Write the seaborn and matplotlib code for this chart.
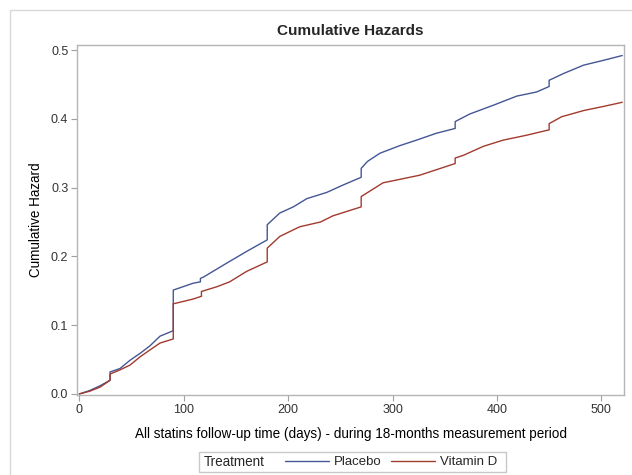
import pandas as pd
import seaborn as sns
import matplotlib.pyplot as plt
from matplotlib.lines import Line2D
from matplotlib.patches import Rectangle

# values (days, cumulative hazard)
placebo_day = [0, 10, 20, 29.5, 29.5, 39, 48.6, 58.2, 67.7, 77.3, 90, 90, 109, 116, 116, 119, 130, 141,
               160, 180, 180, 192, 205, 218, 237, 253, 270, 270, 276, 288, 307, 323, 342, 360, 360,
               374, 397, 419, 438, 450, 450, 464, 483, 502, 520]
placebo_haz = [0.0, 0.005, 0.012, 0.020, 0.032, 0.037, 0.049, 0.059, 0.070, 0.084, 0.092, 0.151, 0.161,
               0.163, 0.168, 0.170, 0.180, 0.190, 0.207, 0.224, 0.246, 0.263, 0.272, 0.284, 0.293, 0.304,
               0.315, 0.328, 0.338, 0.350, 0.361, 0.369, 0.379, 0.386, 0.396, 0.407, 0.420, 0.433, 0.439,
               0.447, 0.456, 0.466, 0.478, 0.485, 0.492]

vitd_day = [0, 10, 20, 29.5, 29.5, 39, 48.6, 58.2, 67.7, 77.3, 90, 90, 109, 117, 117, 132, 144, 160,
            180, 180, 192, 211, 231, 243, 270, 270, 291, 307, 326, 342, 360, 360, 368, 387, 406, 428,
            450, 450, 462, 483, 502, 520]
vitd_haz = [0.0, 0.004, 0.010, 0.020, 0.029, 0.035, 0.042, 0.054, 0.064, 0.074, 0.080, 0.131, 0.138,
            0.142, 0.149, 0.156, 0.163, 0.178, 0.192, 0.212, 0.229, 0.243, 0.250, 0.259, 0.272, 0.287,
            0.307, 0.312, 0.318, 0.326, 0.335, 0.343, 0.347, 0.360, 0.369, 0.376, 0.384, 0.393, 0.403,
            0.412, 0.418, 0.424]

groups = ['Placebo', 'Vitamin D']
colors = ['#445694', '#A23A2E']

df = pd.concat([
    pd.DataFrame({'day': placebo_day, 'haz': placebo_haz, 'Treatment': 'Placebo'}),
    pd.DataFrame({'day': vitd_day, 'haz': vitd_haz, 'Treatment': 'Vitamin D'}),
], ignore_index=True)

sns.set_style('white')
plt.rcParams['font.family'] = ['Liberation Sans', 'DejaVu Sans']

fig = plt.figure(figsize=(6.32, 4.75), dpi=100)
ax = fig.add_axes([77.3 / 632, 1 - 395 / 475, (624 - 77.3) / 632, (395 - 45) / 475])

sns.lineplot(data=df, x='day', y='haz', hue='Treatment', palette=dict(zip(groups, colors)),
             estimator=None, sort=False, legend=False, lw=1.0, ax=ax)

ax.set_xlim(-1.9, 521.7)
ax.set_ylim(-0.0015, 0.5073)
ax.set_xticks([0, 100, 200, 300, 400, 500])
ax.set_yticks([0.0, 0.1, 0.2, 0.3, 0.4, 0.5])
ax.set_yticklabels(['0.0', '0.1', '0.2', '0.3', '0.4', '0.5'])
ax.tick_params(axis='both', direction='out', length=4, width=0.8, color='#A0A0A0',
               labelsize=9, labelcolor='#333333', pad=2.5, bottom=True, left=True)
for s in ax.spines.values():
    s.set_color('#B5B5B5')
    s.set_linewidth(1)

ax.set_xlabel('All statins follow-up time (days) - during 18-months measurement period',
              fontsize=9.75, color='black', labelpad=8)
ax.set_ylabel('Cumulative Hazard', fontsize=9.75, color='black', labelpad=6)
ax.set_title('Cumulative Hazards', fontsize=11, fontweight='bold', pad=7)

# legend below the plot: "Treatment" label, then the two lines
handles = [Line2D([], [], color=c, lw=1) for c in colors]
fig.legend(handles, groups, ncol=2, loc='center left', bbox_to_anchor=(285 / 632, 1 - 462 / 475),
           frameon=False, fontsize=9.5, handlelength=3.3, handletextpad=0.4, columnspacing=0.75,
           borderpad=0, borderaxespad=0)
fig.text(203.3 / 632, 1 - 462 / 475, 'Treatment', fontsize=9.75, va='center', ha='left')
fig.patches.append(Rectangle((199.3 / 632, 1 - 471.7 / 475), (506 - 199.3) / 632, 19.4 / 475,
                             transform=fig.transFigure, fill=False, edgecolor='#C8C8C8', lw=1))
# outer frame of the graph
fig.patches.append(Rectangle((10.5 / 632, -0.05), 1.1, 1 - 10 / 475 + 0.05,
                             transform=fig.transFigure, fill=False, edgecolor='#D8D8D8', lw=1))

fig.savefig('out.png', dpi=100)
